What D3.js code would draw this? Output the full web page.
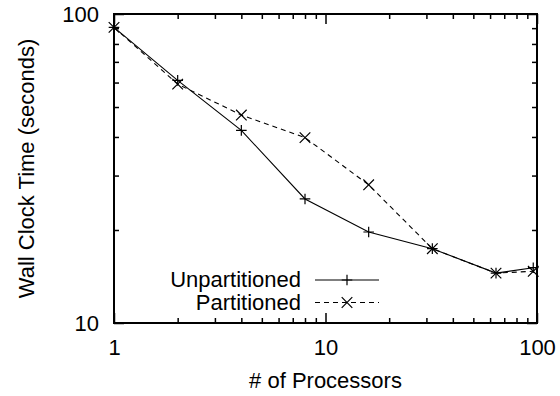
<!DOCTYPE html>
<html>
<head>
<meta charset="utf-8">
<script src="https://cdn.jsdelivr.net/npm/d3@7"></script>
<style>
  html, body { margin: 0; padding: 0; background: #fff; }
  svg text { font-family: "Liberation Sans", Arial, Helvetica, sans-serif; fill: #000; }
</style>
</head>
<body>
<svg id="chart" width="560" height="396"></svg>
<script>
// ---- data ----
const processors = [1, 2, 4, 8, 16, 32, 64, 96];
const unpartitioned = [90.5, 61.0, 42.0, 25.2, 19.7, 17.4, 14.5, 15.1];
const partitioned   = [90.5, 59.3, 47.1, 39.8, 28.0, 17.4, 14.5, 14.7];
const seriesNames = ["Unpartitioned", "Partitioned"];
const xMajorTicks = [1, 10, 100];
const xMinorTicks = [2, 3, 4, 5, 6, 7, 8, 9, 20, 30, 40, 50, 60, 70, 80, 90];
const yMajorTicks = [10, 100];
const yMinorTicks = [20, 30, 40, 50, 60, 70, 80, 90];
const xTitle = "# of Processors";
const yTitle = "Wall Clock Time (seconds)";

// ---- layout ----
const svg = d3.select("#chart");
const L = 114, R = 537, T = 14, B = 323;
const x = d3.scaleLog().domain([1, 100]).range([L, R]);
const y = d3.scaleLog().domain([10, 100]).range([B, T]);
const FS = 22;
const majorLen = 10, minorLen = 5;

function styleAxis(g) {
  g.select(".domain").remove();
  g.selectAll(".tick line").attr("stroke", "#000").attr("stroke-width", 1.5);
  g.selectAll(".tick text").style("font-size", FS + "px").attr("fill", "#000");
  g.attr("font-family", null);
}

// bottom
svg.append("g").attr("transform", `translate(0,${B})`)
  .call(d3.axisBottom(x).tickValues(xMajorTicks).tickSize(-majorLen).tickPadding(16)
    .tickFormat(d3.format("d")))
  .call(styleAxis);
svg.append("g").attr("transform", `translate(0,${B})`)
  .call(d3.axisBottom(x).tickValues(xMinorTicks).tickSize(-minorLen).tickFormat(""))
  .call(styleAxis);
// top mirror
svg.append("g").attr("transform", `translate(0,${T})`)
  .call(d3.axisTop(x).tickValues(xMajorTicks).tickSize(-majorLen).tickFormat(""))
  .call(styleAxis);
svg.append("g").attr("transform", `translate(0,${T})`)
  .call(d3.axisTop(x).tickValues(xMinorTicks).tickSize(-minorLen).tickFormat(""))
  .call(styleAxis);
// left
svg.append("g").attr("transform", `translate(${L},0)`)
  .call(d3.axisLeft(y).tickValues(yMajorTicks).tickSize(-majorLen).tickPadding(15)
    .tickFormat(d3.format("d")))
  .call(styleAxis);
svg.append("g").attr("transform", `translate(${L},0)`)
  .call(d3.axisLeft(y).tickValues(yMinorTicks).tickSize(-minorLen).tickFormat(""))
  .call(styleAxis);
// right mirror
svg.append("g").attr("transform", `translate(${R},0)`)
  .call(d3.axisRight(y).tickValues(yMajorTicks).tickSize(-majorLen).tickFormat(""))
  .call(styleAxis);
svg.append("g").attr("transform", `translate(${R},0)`)
  .call(d3.axisRight(y).tickValues(yMinorTicks).tickSize(-minorLen).tickFormat(""))
  .call(styleAxis);

// border
svg.append("rect").attr("x", L).attr("y", T).attr("width", R - L).attr("height", B - T)
  .attr("fill", "none").attr("stroke", "#000").attr("stroke-width", 2);

// titles
svg.append("text").attr("x", (L + R) / 2).attr("y", 388).attr("text-anchor", "middle")
  .style("font-size", FS + "px").text(xTitle);
svg.append("text").attr("transform", `translate(34,${(T + B) / 2}) rotate(-90)`)
  .attr("text-anchor", "middle").style("font-size", FS + "px").text(yTitle);

// lines
const line = d3.line().x(d => x(d[0])).y(d => y(d[1]));
const dataU = processors.map((p, i) => [p, unpartitioned[i]]);
const dataP = processors.map((p, i) => [p, partitioned[i]]);
const ms = 5.3;

function plus(g, cx, cy) {
  g.append("path").attr("d", `M${cx - ms},${cy}H${cx + ms}M${cx},${cy - ms}V${cy + ms}`)
    .attr("stroke", "#000").attr("stroke-width", 1.2).attr("fill", "none");
}
function cross(g, cx, cy) {
  g.append("path").attr("d", `M${cx - ms},${cy - ms}L${cx + ms},${cy + ms}M${cx - ms},${cy + ms}L${cx + ms},${cy - ms}`)
    .attr("stroke", "#000").attr("stroke-width", 1.2).attr("fill", "none");
}

svg.append("path").datum(dataU).attr("d", line)
  .attr("fill", "none").attr("stroke", "#000").attr("stroke-width", 1.1);
svg.append("path").datum(dataP).attr("d", line)
  .attr("fill", "none").attr("stroke", "#000").attr("stroke-width", 1.1)
  .attr("stroke-dasharray", "5,4");

const gm = svg.append("g");
dataU.forEach(d => plus(gm, x(d[0]), y(d[1])));
dataP.forEach(d => cross(gm, x(d[0]), y(d[1])));

// legend
const leg = svg.append("g");
const legRows = [
  { name: seriesNames[0], dash: null, mark: plus, y: 280 },
  { name: seriesNames[1], dash: "5,4", mark: cross, y: 302.5 }
];
legRows.forEach(r => {
  leg.append("text").attr("x", 301).attr("y", r.y).attr("dy", "0.34em")
    .attr("text-anchor", "end").style("font-size", FS + "px").text(r.name);
  leg.append("line").attr("x1", 315).attr("x2", 379).attr("y1", r.y).attr("y2", r.y)
    .attr("stroke", "#000").attr("stroke-width", 1.1)
    .attr("stroke-dasharray", r.dash);
  r.mark(leg, 347, r.y);
});
</script>
</body>
</html>
